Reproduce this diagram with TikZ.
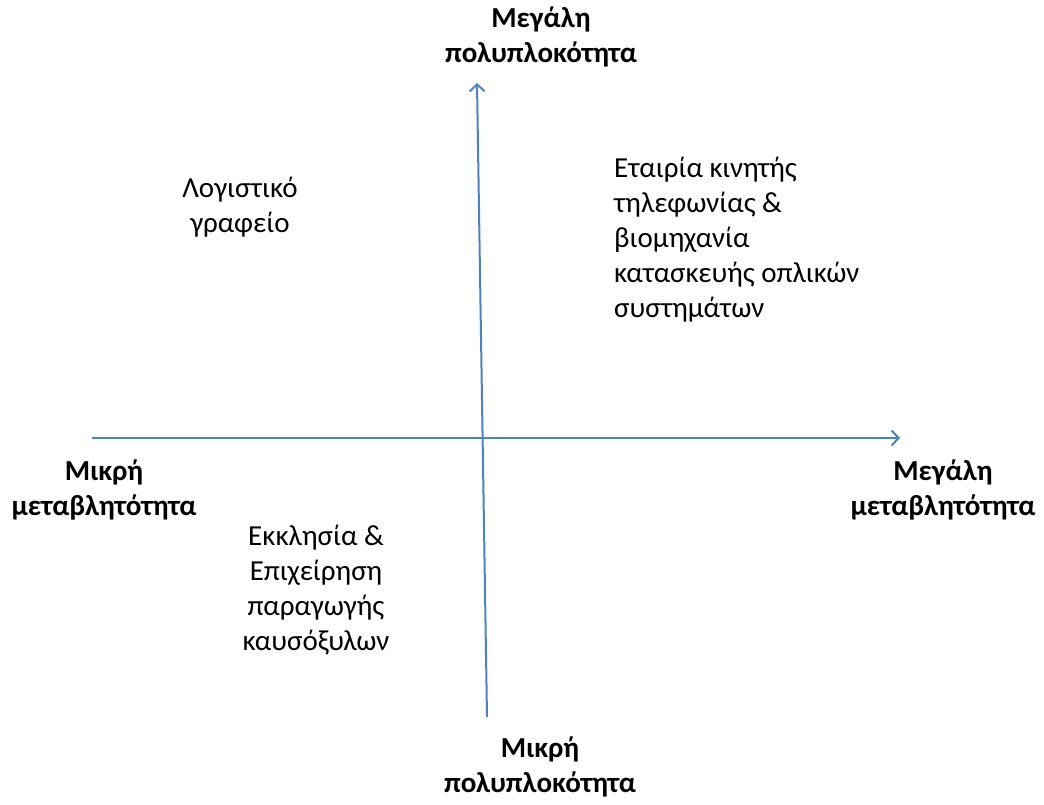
\documentclass[tikz,border=0pt]{standalone}
\usepackage{fontspec}
\setmainfont{Carlito}
\usetikzlibrary{arrows.meta}

\definecolor{axisblue}{HTML}{4F81BD}

\begin{document}
\begin{tikzpicture}[x=1pt, y=-1pt,
    axis/.style={draw=axisblue, line width=2pt, -{Straight Barb[length=7pt, width=15pt, line width=2pt]}},
    pole/.style={font=\fontsize{29}{35}\selectfont\bfseries, align=center, anchor=base, inner sep=0pt},
    field/.style={font=\fontsize{29}{35}\selectfont, anchor=base, inner sep=0pt}]
    \useasboundingbox (0, 0) rectangle (1044, 805);
    	% Axes ends:
    	\coordinate (westend) at (92, 438);
    	\coordinate (eastend) at (900, 438);
    	\coordinate (southend) at (487, 717);
    	\coordinate (northend) at (477, 83);
    	\draw[axis] (westend) -- (eastend);
    	\draw[axis] (southend) -- (northend);
    	% Pole labels (placed at the baseline of their last line):
    	\node[pole] (highcomplex) at (541, 63) {Μεγάλη\\πολυπλοκότητα};
    	\node[pole] (lowcomplex) at (540, 792) {Μικρή\\πολυπλοκότητα};
    	\node[pole] (lowvar) at (104, 515) {Μικρή\\μεταβλητότητα};
    	\node[pole] (highvar) at (943, 515) {Μεγάλη\\μεταβλητότητα};
    	% Quadrant labels:
    	\node[field, align=center] (accounting) at (240, 233) {Λογιστικό\\γραφείο};
    	\node[field, align=left, anchor=base west] (telecom) at (614, 317) {Εταιρία κινητής\\τηλεφωνίας \&\\βιομηχανία\\κατασκευής οπλικών\\συστημάτων};
    	\node[field, align=center] (church) at (316, 650) {Εκκλησία \&\\Επιχείρηση\\παραγωγής\\καυσόξυλων};
\end{tikzpicture}
\end{document}
